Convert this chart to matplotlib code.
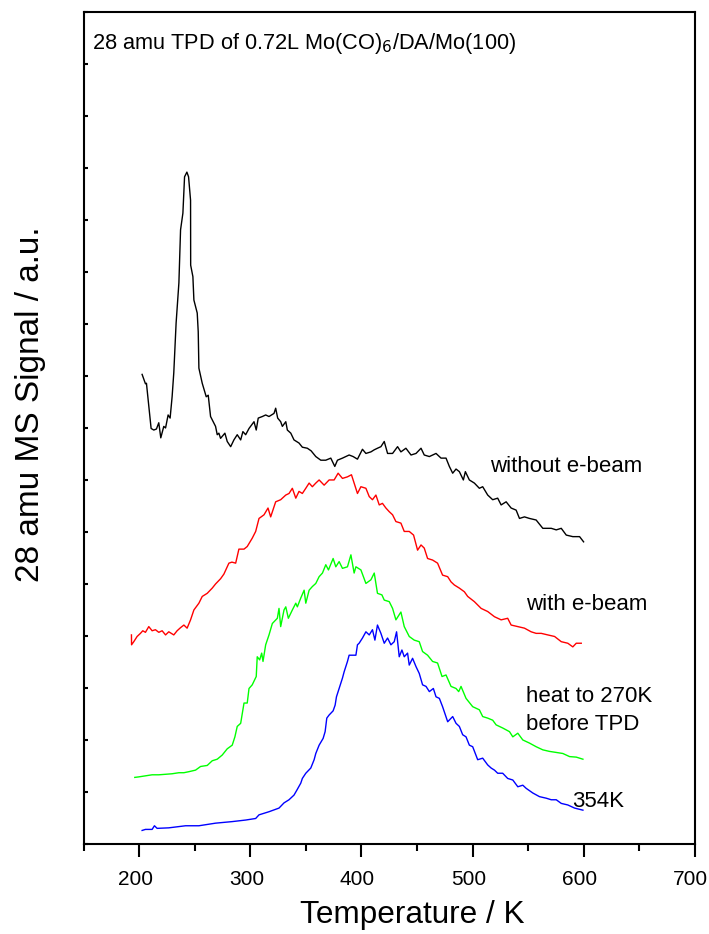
import matplotlib
matplotlib.use("Agg")
import matplotlib.pyplot as plt
from matplotlib.ticker import MultipleLocator, NullFormatter
from matplotlib.transforms import ScaledTranslation

plt.rcParams['font.family'] = ['Liberation Sans', 'DejaVu Sans']

# without e-beam (black)
t_black = [202.6, 205.6, 206.5, 210.7, 213.1, 215.5, 217.6, 219.4, 222.1, 223.7, 226.0, 227.8,
           229.6, 231.1, 233.2, 235.7, 237.2, 239.3, 240.8, 242.9, 244.4, 246.2, 246.3, 248.3,
           249.2, 252.2, 253.1, 253.7, 256.7, 260.3, 262.1, 264.2, 268.7, 270.2, 271.7, 273.2,
           277.1, 279.2, 282.3, 285.2, 288.2, 291.3, 293.3, 295.8, 298.8, 303.3, 305.3, 307.1,
           310.8, 313.8, 316.8, 321.3, 322.8, 324.6, 327.3, 328.8, 331.9, 333.3, 336.4, 339.3,
           343.8, 346.8, 351.3, 354.7, 358.9, 363.4, 367.9, 372.4, 376.0, 378.4, 382.9, 388.9,
           392.5, 396.4, 400.9, 404.0, 408.5, 411.5, 414.4, 417.5, 420.5, 423.5, 428.0, 432.5,
           435.5, 440.0, 444.6, 449.1, 453.6, 456.5, 461.1, 467.1, 471.6, 476.1, 479.1, 482.1,
           485.1, 488.1, 491.7, 493.5, 497.1, 501.6, 506.1, 509.1, 513.6, 518.1, 522.6, 525.7,
           530.2, 534.7, 539.2, 542.2, 546.7, 551.2, 557.2, 563.2, 570.8, 575.3, 579.8, 584.3,
           590.2, 596.3, 599.9]
s_black = [9.03, 8.85, 8.86, 7.99, 7.96, 7.98, 8.10, 7.81, 8.03, 8.00, 8.25, 8.19,
           8.60, 9.06, 10.02, 10.79, 11.81, 12.13, 12.83, 12.92, 12.83, 12.38, 11.13, 10.91,
           10.46, 10.21, 9.85, 9.15, 8.86, 8.60, 8.63, 8.22, 8.03, 7.87, 7.90, 7.80,
           7.90, 7.74, 7.64, 7.77, 7.87, 7.77, 7.93, 7.87, 7.99, 8.12, 7.96, 8.19,
           8.22, 8.25, 8.22, 8.28, 8.38, 8.19, 8.12, 8.03, 8.12, 7.96, 7.90, 7.77,
           7.71, 7.63, 7.61, 7.56, 7.45, 7.38, 7.38, 7.42, 7.26, 7.38, 7.42, 7.48,
           7.45, 7.40, 7.59, 7.51, 7.54, 7.58, 7.61, 7.64, 7.74, 7.51, 7.51, 7.64,
           7.54, 7.61, 7.48, 7.51, 7.61, 7.48, 7.45, 7.51, 7.42, 7.42, 7.26, 7.13,
           7.21, 7.16, 7.00, 7.16, 7.00, 6.94, 6.84, 6.87, 6.71, 6.62, 6.65, 6.52,
           6.58, 6.46, 6.42, 6.26, 6.29, 6.26, 6.23, 6.07, 6.07, 6.04, 6.07, 5.94,
           5.91, 5.91, 5.81]

# with e-beam (red)
t_red = [193.0, 193.1, 195.1, 198.1, 201.1, 203.2, 205.6, 208.6, 211.6, 214.6, 217.6, 220.6,
         223.7, 226.6, 231.1, 234.1, 237.2, 240.2, 243.1, 246.2, 249.2, 253.7, 256.7, 261.2,
         265.7, 268.7, 273.2, 276.2, 280.7, 283.4, 286.8, 289.7, 294.3, 297.2, 301.7, 304.8,
         307.8, 312.3, 315.9, 318.3, 322.8, 327.3, 331.9, 334.8, 337.8, 340.9, 343.8, 346.8,
         349.9, 352.9, 355.8, 358.9, 361.9, 366.4, 370.9, 375.4, 379.0, 382.9, 387.4, 391.0,
         393.4, 396.4, 399.5, 404.0, 407.0, 409.9, 413.0, 416.0, 418.9, 422.0, 425.0, 428.0,
         431.0, 435.5, 438.5, 443.0, 446.9, 450.5, 453.6, 456.5, 459.5, 464.0, 468.5, 473.0,
         477.6, 480.6, 483.6, 488.1, 492.6, 495.6, 501.6, 507.7, 513.6, 519.7, 525.7, 531.6,
         534.7, 540.7, 546.7, 552.7, 557.2, 561.8, 567.7, 573.8, 579.8, 585.7, 590.2, 593.3,
         597.8]
s_red = [4.02, 3.83, 3.89, 3.99, 4.05, 4.10, 4.07, 4.18, 4.10, 4.12, 4.07, 4.10,
         4.02, 4.08, 4.02, 4.10, 4.16, 4.21, 4.15, 4.31, 4.50, 4.63, 4.76, 4.82,
         4.92, 5.00, 5.10, 5.19, 5.40, 5.42, 5.40, 5.67, 5.67, 5.72, 5.88, 6.01,
         6.26, 6.33, 6.46, 6.29, 6.58, 6.62, 6.71, 6.74, 6.84, 6.65, 6.78, 6.74,
         6.84, 6.94, 6.87, 6.94, 7.00, 6.90, 7.00, 7.00, 7.13, 7.03, 7.06, 7.10,
         6.94, 6.74, 6.87, 6.84, 6.68, 6.62, 6.71, 6.52, 6.55, 6.46, 6.39, 6.33,
         6.20, 6.17, 6.01, 6.01, 5.94, 5.65, 5.75, 5.69, 5.49, 5.46, 5.40, 5.17,
         5.14, 5.04, 4.98, 4.92, 4.85, 4.76, 4.66, 4.53, 4.47, 4.37, 4.31, 4.34,
         4.21, 4.18, 4.15, 4.08, 4.05, 4.05, 4.02, 3.99, 3.89, 3.86, 3.79, 3.86,
         3.86]

# heat to 270K before TPD (green)
t_green = [196.0, 199.6, 205.6, 211.6, 217.6, 223.7, 229.6, 235.7, 240.2, 244.7, 250.7, 255.2,
           261.2, 265.7, 270.2, 274.7, 279.2, 283.7, 286.1, 288.2, 291.3, 294.3, 297.2, 298.8,
           301.7, 305.3, 306.2, 308.4, 310.2, 311.4, 313.8, 316.8, 319.8, 324.3, 325.8, 327.3,
           330.3, 331.9, 334.2, 337.8, 340.9, 342.3, 345.4, 348.4, 349.9, 352.9, 355.8, 358.9,
           361.9, 364.9, 367.9, 370.3, 374.5, 376.9, 379.9, 382.9, 387.4, 390.5, 393.4, 395.0,
           399.5, 404.0, 408.5, 411.5, 414.4, 418.4, 420.5, 425.0, 428.0, 431.0, 435.5, 438.5,
           443.0, 447.5, 452.0, 455.0, 459.5, 464.0, 468.5, 472.5, 476.1, 480.6, 485.1, 487.5,
           489.6, 494.1, 500.1, 506.1, 509.1, 513.6, 518.1, 521.2, 527.1, 533.2, 536.2, 540.7,
           545.2, 551.2, 557.2, 563.2, 569.2, 575.3, 581.2, 587.3, 593.3, 599.3]
s_green = [1.28, 1.29, 1.31, 1.33, 1.33, 1.34, 1.35, 1.37, 1.37, 1.39, 1.42, 1.49,
           1.51, 1.60, 1.63, 1.71, 1.83, 1.90, 2.06, 2.26, 2.32, 2.71, 2.71, 2.99,
           3.06, 3.22, 3.60, 3.54, 3.67, 3.51, 3.83, 4.02, 4.24, 4.34, 4.53, 4.18,
           4.50, 4.56, 4.34, 4.50, 4.63, 4.56, 4.73, 4.88, 4.63, 4.88, 4.95, 5.01,
           5.14, 5.21, 5.37, 5.27, 5.49, 5.33, 5.43, 5.30, 5.33, 5.56, 5.21, 5.33,
           5.27, 5.01, 5.08, 5.21, 4.82, 4.79, 4.69, 4.66, 4.53, 4.31, 4.46, 4.18,
           3.99, 3.92, 3.89, 3.70, 3.63, 3.51, 3.48, 3.22, 3.25, 3.03, 2.99, 2.93,
           3.03, 2.80, 2.64, 2.58, 2.45, 2.42, 2.38, 2.29, 2.23, 2.16, 2.06, 2.13,
           2.00, 1.94, 1.87, 1.81, 1.78, 1.76, 1.74, 1.68, 1.67, 1.63]

# 354K (blue)
t_blue = [202.6, 205.6, 211.6, 213.7, 216.1, 226.6, 241.7, 253.7, 268.7, 283.7, 295.8, 304.8,
          307.8, 316.8, 325.8, 330.3, 334.8, 339.3, 342.0, 345.4, 346.8, 349.9, 354.4, 357.4,
          358.9, 361.9, 365.5, 367.3, 368.8, 370.9, 374.5, 376.3, 377.5, 379.9, 382.9, 384.4,
          387.4, 388.9, 395.0, 396.4, 397.9, 400.9, 404.0, 407.0, 409.9, 412.1, 414.4, 417.5,
          420.5, 423.5, 426.5, 429.5, 431.6, 434.0, 436.4, 438.5, 441.5, 443.0, 446.0, 449.1,
          452.0, 455.0, 458.1, 461.1, 464.7, 467.1, 470.1, 473.0, 477.6, 482.1, 485.1, 488.1,
          491.1, 494.1, 497.1, 500.1, 504.6, 509.1, 513.6, 516.7, 519.7, 522.6, 527.1, 531.6,
          536.2, 540.7, 545.2, 548.2, 554.2, 560.2, 566.3, 570.8, 575.3, 579.8, 585.7, 591.8,
          599.3]
s_blue = [0.26, 0.28, 0.28, 0.35, 0.30, 0.31, 0.35, 0.35, 0.40, 0.43, 0.46, 0.49,
          0.56, 0.62, 0.69, 0.79, 0.85, 0.94, 1.04, 1.17, 1.26, 1.36, 1.46, 1.62,
          1.74, 1.90, 2.03, 2.16, 2.42, 2.48, 2.56, 2.67, 2.83, 2.99, 3.19, 3.31,
          3.51, 3.63, 3.63, 3.83, 3.86, 3.96, 4.08, 4.02, 4.12, 3.92, 4.21, 4.05,
          3.86, 3.96, 3.83, 3.89, 4.08, 3.60, 3.73, 3.60, 3.67, 3.44, 3.57, 3.41,
          3.28, 3.06, 3.03, 2.93, 2.99, 2.83, 2.80, 2.64, 2.35, 2.45, 2.32, 2.26,
          2.10, 2.06, 1.90, 1.87, 1.62, 1.65, 1.52, 1.46, 1.42, 1.36, 1.36, 1.26,
          1.23, 1.10, 1.13, 1.07, 0.98, 0.91, 0.88, 0.85, 0.85, 0.78, 0.75, 0.69,
          0.65]

curve_labels = ["without e-beam", "with e-beam", "heat to 270K\nbefore TPD", "354K"]
label_pos = [(515.6, 7.25), (548.1, 4.6), (548.1, 2.56), (589.5, 0.81)]

fig = plt.figure(figsize=(7.09, 9.34), dpi=100)
ax = fig.add_axes([0.118, 0.0964, 0.862, 0.8908])

ax.plot(t_black, s_black, color='black', lw=1.0)
ax.plot(t_red, s_red, color='#ff0000', lw=1.0)
ax.plot(t_green, s_green, color='#00ff00', lw=1.0)
ax.plot(t_blue, s_blue, color='#0000ff', lw=1.0)

for txt, (x, y) in zip(curve_labels, label_pos):
    ax.text(x, y, txt, fontsize=16, ha='left', va='center', linespacing=1.45)

ax.text(0.014, 0.9615, r"28 amu TPD of 0.72L Mo(CO)$_6$/DA/Mo(100)",
        transform=ax.transAxes, fontsize=15.7, ha='left', va='center')

ax.set_xlim(150, 700)
ax.set_ylim(0, 16)
ax.xaxis.set_major_locator(MultipleLocator(100))
ax.xaxis.set_minor_locator(MultipleLocator(50))
ax.yaxis.set_major_locator(MultipleLocator(1))
ax.yaxis.set_major_formatter(NullFormatter())
ax.tick_params(axis='x', which='major', direction='out', length=9, width=1.5,
               labelsize=15, pad=10)
ax.tick_params(axis='x', which='minor', direction='out', length=5, width=1.5)
ax.tick_params(axis='y', which='major', direction='in', length=3, width=1.5)
for sp in ax.spines.values():
    sp.set_linewidth(1.5)

# tick labels sit a few pixels left of their ticks in the original
shift = ScaledTranslation(-0.04, 0, fig.dpi_scale_trans)
for lbl in ax.get_xticklabels():
    lbl.set_transform(lbl.get_transform() + shift)

ax.set_xlabel("Temperature / K", fontsize=22.7, va='center')
ax.xaxis.set_label_coords(0.537, -0.0853)
ax.set_ylabel("28 amu MS Signal / a.u.", fontsize=24, va='center')
ax.yaxis.set_label_coords(-0.0877, 0.528)

fig.savefig("out.png", dpi=100)
